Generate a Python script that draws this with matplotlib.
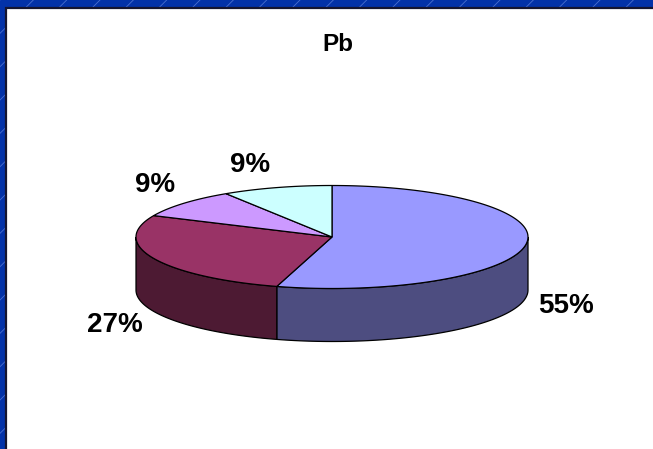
import matplotlib.pyplot as plt
import matplotlib as mpl
from matplotlib.patches import Rectangle, Polygon
import numpy as np

mpl.rcParams['font.family'] = ['Liberation Sans', 'DejaVu Sans']
mpl.rcParams['hatch.color'] = '#4a6fd0'
mpl.rcParams['hatch.linewidth'] = 0.6

# Data (counts -> percentages)
values = [6, 3, 1, 1]
labels = ['55%', '27%', '9%', '9%']
top_colors = ['#9999FF', '#993366', '#CC99FF', '#CCFFFF']
title = 'Pb'

W, H = 653, 449
fig = plt.figure(figsize=(W / 100, H / 100), dpi=100)

# Blue hatched frame and white plot area
fig.patches.append(Rectangle((0, 0), 1, 1, transform=fig.transFigure,
                             facecolor='#0332A8', edgecolor='#4a6fd0',
                             hatch='/', linewidth=0, zorder=0))
fig.patches.append(Rectangle((6 / W, -0.01), 1.02, 1 - 8 / H + 0.01,
                             transform=fig.transFigure, facecolor='white',
                             edgecolor='#151530', linewidth=1.6, zorder=1))

ax = fig.add_axes([0, 0, 1, 1], zorder=5)
ax.set_xlim(0, W)
ax.set_ylim(H, 0)
ax.axis('off')
ax.patch.set_alpha(0)

# Pie geometry (pixels)
cx, cy = 332, 237
rx, ry = 196, 51.5
depth = 53


def darker(c, f=0.5):
    r, g, b = mpl.colors.to_rgb(c)
    return (r * f, g * f, b * f)


fracs = np.array(values, dtype=float) / sum(values)
starts = 90 - 360 * np.concatenate([[0], np.cumsum(fracs)[:-1]])
ends = starts - 360 * fracs


def pt(t, dz=0):
    t = np.radians(t)
    return cx + rx * np.cos(t), cy - ry * np.sin(t) + dz


# Side walls (front half only: angles between 180 and 360)
for s, e, col in zip(starts, ends, top_colors):
    a0, a1 = e, s
    for off in (0, -360, 360):
        lo = max(a0 + off, -180)
        hi = min(a1 + off, 0)
        if hi > lo:
            ts = np.linspace(lo, hi, 80)
            top = [pt(t) for t in ts]
            bot = [pt(t, depth) for t in ts[::-1]]
            ax.add_patch(Polygon(top + bot, closed=True, facecolor=darker(col),
                                 edgecolor='black', linewidth=0.9, zorder=2))

# Top faces
for s, e, col in zip(starts, ends, top_colors):
    ts = np.linspace(s, e, 120)
    verts = [(cx, cy)] + [pt(t) for t in ts]
    ax.add_patch(Polygon(verts, closed=True, facecolor=col,
                         edgecolor='black', linewidth=0.9, zorder=3))

# Labels (baseline positions)
label_pos = [(566, 313), (115, 332), (155.5, 192), (250.5, 172)]
for lab, (x, y) in zip(labels, label_pos):
    ax.text(x, y, lab, ha='center', va='baseline', fontsize=20,
            fontweight='bold', color='black', zorder=4)

ax.text(337.5, 51, title, ha='center', va='baseline', fontsize=17.5,
        fontweight='bold', color='black', zorder=4)

fig.savefig('out.png', dpi=100)
